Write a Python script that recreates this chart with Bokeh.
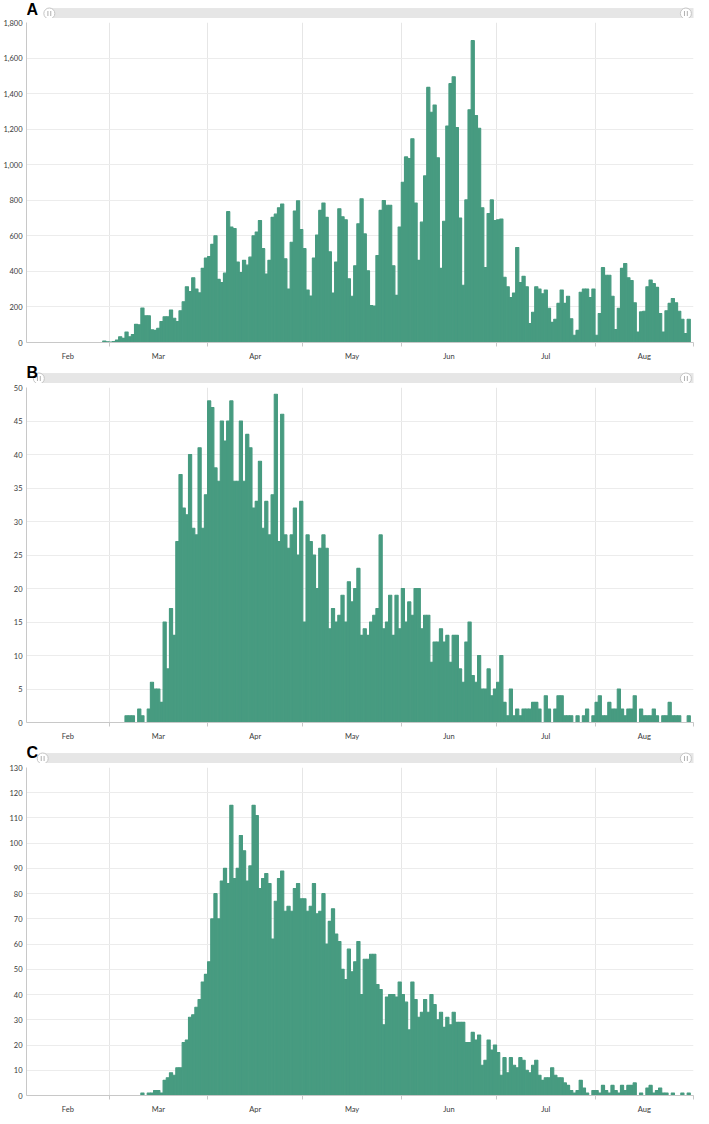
import pandas as pd
from bokeh.plotting import figure
from bokeh.layouts import column
from bokeh.models import (ColumnDataSource, Range1d, FixedTicker, NumeralTickFormatter,
                          DatetimeTickFormatter)
from bokeh.core.properties import value
from bokeh.embed import file_html
from bokeh.resources import INLINE

# ---------------- data ----------------
dates = pd.date_range("2020-02-04", "2020-08-31", freq="D")

panel_letters = ["A", "B", "C"]

values_a = [
    0, 0, 0, 0, 0, 0, 0, 0, 0, 0, 0, 0, 0, 0, 0, 0, 0, 0, 0, 0, 0, 0, 0, 0,
    8, 4, 3, 5, 14, 32, 23, 59, 32, 45, 102, 100, 194, 150, 150, 72, 68, 80, 118, 145, 145, 183, 136, 118,
    179, 229, 313, 287, 364, 301, 279, 417, 475, 484,
    552, 600, 355, 337, 390, 736, 650, 641, 453, 394,
    462, 435, 480, 600, 621, 686, 528, 385, 462, 704,
    722, 758, 779, 471, 301, 564, 740, 797, 636, 528,
    295, 261, 475, 605, 743, 784, 704, 510, 278, 453,
    752, 707, 690, 358, 260, 432, 668, 808, 611, 403,
    208, 205, 489, 743, 799, 772, 772, 432, 265, 650,
    901, 1044, 1035, 1146, 784, 462, 677, 937, 1435, 1295,
    1336, 1039, 417, 682, 1218, 1456, 1495, 1209, 700, 322,
    802, 1309, 1698,
    1277, 1205, 758, 421, 725, 802, 686, 690, 695, 367,
    313, 253, 278, 534, 337, 372, 313, 107, 170, 313,
    301, 274, 295, 193, 113, 131, 220, 295, 220, 260,
    134, 41, 68, 283, 301, 301, 253, 301, 41, 163,
    421, 378, 378, 260, 73, 193, 417, 444, 364, 349,
    224, 59, 172, 176, 313, 351, 331, 310, 163, 59,
    179, 220, 247, 224, 176, 131, 50, 131,
]

values_b = [
    0, 0, 0, 0, 0, 0, 0, 0, 0, 0, 0, 0, 0, 0, 0, 0, 0, 0, 0, 0, 0, 0, 0, 0, 0, 0, 0, 0, 0, 0, 0,
    1, 1, 1, 0, 2, 1, 0, 2, 6, 5, 5, 3, 15, 8, 17, 13, 27, 37, 32, 31,
    40, 29, 28, 41, 29, 34, 48, 47, 38, 36, 45, 42, 45, 48, 36, 36, 45, 36, 43, 41,
    32, 33, 39, 29, 33, 28, 34, 49, 27, 46, 28, 26, 28, 32, 25, 33, 15, 28, 27, 25,
    20, 26, 28, 26, 14, 17, 15, 16, 19, 15, 21, 18, 20, 23, 13,
    14, 13, 15, 16, 17, 28, 14, 15, 19, 13, 19, 14, 20, 15, 18, 16, 20, 20, 14, 16,
    16, 9, 12, 12, 14, 12, 13, 9, 13, 13, 8, 6, 12, 15, 7, 6, 10, 5, 5, 8,
    4, 5, 6, 10, 3, 1, 5, 1, 2, 1, 2, 2, 2, 3, 3, 2, 0, 4, 2, 0,
    2, 4, 4, 1, 1, 1, 0, 1, 0, 1, 2, 0, 1, 3, 4, 1, 1, 3, 2, 2,
    5, 2, 1, 2, 2, 4, 0, 2, 1, 1, 1, 2, 1, 0, 1, 1, 3, 1, 1, 1,
    0, 0, 1, 0,
]

values_c = [
    0, 0, 0, 0, 0, 0, 0, 0, 0, 0, 0, 0, 0, 0, 0, 0, 0, 0, 0, 0, 0, 0, 0, 0, 0, 0, 0, 0, 0, 0, 0, 0, 0, 0, 0, 0,
    1, 0, 1, 1, 2, 2, 1, 6, 7, 9, 8, 11, 11, 21, 22, 31, 32, 35, 38, 45, 48, 53,
    70, 80, 70, 85, 90, 84, 115, 86, 90, 103, 97, 85, 91, 115, 111, 82, 86, 88, 84, 62,
    77, 86, 89, 73, 75, 73, 82, 84, 78, 78, 73, 75, 84, 72, 73, 80, 60, 69, 74, 64,
    61, 50, 46, 58, 49, 53, 61,
    40, 54, 54, 56, 56, 44, 42, 28, 39, 40, 40, 39, 45, 40, 37, 26, 45, 38, 31, 33,
    38, 33, 40, 36, 30, 33, 27, 31, 28, 33, 29, 29, 29, 21, 21, 25, 22, 24, 12, 14,
    22, 18, 20, 17, 8, 15, 9, 15, 12, 11, 15, 14, 10, 9, 12, 14, 8, 6, 7, 7,
    11, 8, 7, 7, 5, 4, 2, 1, 2, 6, 3, 1, 0, 2, 2, 1, 4, 2, 1, 4,
    2, 1, 4, 2, 4, 4, 5, 0, 1, 0, 3, 4, 1, 2, 3, 1, 1, 0, 1, 0,
    0, 1, 0, 1, 0,
]

y_ticks_a = [0, 200, 400, 600, 800, 1000, 1200, 1400, 1600, 1800]
y_ticks_b = [0, 5, 10, 15, 20, 25, 30, 35, 40, 45, 50]
y_ticks_c = [0, 10, 20, 30, 40, 50, 60, 70, 80, 90, 100, 110, 120, 130]

# ---------------- styling ----------------
GREEN = "#479b80"
DAY = 86400000.0
FIG_W = 701
RIGHT = 8
LABEL_FONT = "Lato"


def ms(ts):
    return ts.value / 1e6


x_start = dates[0]
x_end = dates[-1] + pd.Timedelta(days=1)
bounds = [ms(t) for t in pd.date_range("2020-03-01", "2020-09-01", freq="MS")]
mids = []
for m in pd.date_range("2020-02-01", "2020-08-01", freq="MS"):
    s = max(m, x_start)
    e = min(m + pd.offsets.MonthBegin(1), x_end)
    mids.append((ms(s) + ms(e)) / 2)


def header(letter, height, left):
    """Panel letter and the (static) scrollbar strip above each chart."""
    h = figure(width=FIG_W, height=height, x_range=Range1d(0, FIG_W),
               y_range=Range1d(height, 0), output_backend="svg",
               toolbar_location=None, x_axis_location=None, y_axis_location=None,
               min_border=0)
    h.outline_line_color = None
    h.xgrid.visible = False
    h.ygrid.visible = False
    h.border_fill_color = "white"
    bar_top = height - 10
    cy = height - 5
    h.quad(left=[left], right=[FIG_W], top=[bar_top], bottom=[height],
           fill_color="#e6e6e6", line_color="#dddddd", line_width=0.5)
    grips = [left, FIG_W - RIGHT]
    h.scatter(x=grips, y=[cy, cy], marker="circle", size=11,
              fill_color="white", line_color="#c4c4c4", line_width=1)
    for cx in grips:
        h.segment(x0=[cx - 1.5, cx + 1.5], y0=[cy - 2.5, cy - 2.5],
                  x1=[cx - 1.5, cx + 1.5], y1=[cy + 2.5, cy + 2.5],
                  line_color="#b0b0b0", line_width=1)
    h.text(x=[0], y=[0], text=[letter], text_font=value("Liberation Sans"),
           text_font_style="bold", text_font_size="16px", text_baseline="top",
           text_align="left", text_color="black")
    return h


def panel(values, yticks, height, left, bottom):
    src = ColumnDataSource(dict(x=[ms(t) + DAY / 2 for t in dates], v=values))
    p = figure(width=FIG_W, height=height, x_axis_type="datetime",
               x_range=Range1d(ms(x_start), ms(x_end)),
               y_range=Range1d(0, yticks[-1]),
               output_backend="svg", toolbar_location=None,
               min_border_left=left, min_border_right=RIGHT,
               min_border_top=4, min_border_bottom=bottom)
    p.outline_line_color = None
    p.background_fill_color = "white"
    p.border_fill_color = "white"

    p.vbar(x="x", top="v", bottom=0, width=DAY, source=src,
           fill_color=GREEN, line_color=GREEN, line_width=1.1)

    xa = p.xaxis[0]
    xa.ticker = FixedTicker(ticks=mids, minor_ticks=bounds)
    xa.formatter = DatetimeTickFormatter(days="%b", months="%b", years="%b",
                                         hours="%b", hourmin="%b")
    xa.major_tick_out = 0
    xa.major_tick_in = 0
    xa.minor_tick_out = 4
    xa.minor_tick_in = 0
    xa.minor_tick_line_color = "#c8c8c8"
    xa.axis_line_color = "#c8c8c8"
    xa.major_label_standoff = 5
    xa.major_label_text_font = LABEL_FONT
    xa.major_label_text_font_size = "7.5px"
    xa.major_label_text_color = "#3a3a3a"

    ya = p.yaxis[0]
    ya.ticker = FixedTicker(ticks=yticks)
    ya.formatter = NumeralTickFormatter(format="0,0")
    ya.major_tick_out = 0
    ya.major_tick_in = 0
    ya.minor_tick_line_color = None
    ya.axis_line_color = "#c8c8c8"
    ya.major_label_standoff = 4
    ya.major_label_text_font = LABEL_FONT
    ya.major_label_text_font_size = "7.5px"
    ya.major_label_text_color = "#3a3a3a"

    p.xgrid.ticker = FixedTicker(ticks=bounds)
    p.xgrid.grid_line_color = "#e6e6e6"
    p.ygrid.grid_line_color = "#ececec"
    return p


hA = header(panel_letters[0], 18, 24)
pA = panel(values_a, y_ticks_a, height=345, left=24, bottom=20)
hB = header(panel_letters[1], 20, 13)
pB = panel(values_b, y_ticks_b, height=360, left=13, bottom=20)
hC = header(panel_letters[2], 20, 17)
pC = panel(values_c, y_ticks_c, height=353, left=17, bottom=16)

layout = column(hA, pA, hB, pB, hC, pC, spacing=0)

open("out.html", "w").write(file_html(layout, INLINE))
